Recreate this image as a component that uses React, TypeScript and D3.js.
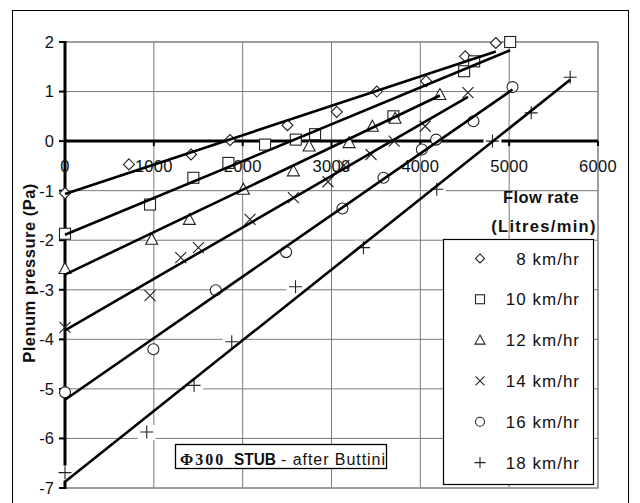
import React from "react";
import * as d3 from "d3";

const seriesNames = ["8 km/hr", "10 km/hr", "12 km/hr", "14 km/hr", "16 km/hr", "18 km/hr"];
const markerKinds = ["diamond", "square", "triangle", "x", "circle", "plus"];

const flow8 = [0, 720, 1419, 1858, 2504, 3059, 3510, 4065, 4505, 4850];
const press8 = [-1.05, -0.47, -0.27, 0.02, 0.32, 0.59, 1.0, 1.21, 1.71, 1.98];
const flow10 = [0, 957, 1445, 1839, 2252, 2598, 2815, 3697, 4493, 4606, 5011];
const press10 = [-1.87, -1.28, -0.74, -0.44, -0.07, 0.03, 0.14, 0.5, 1.41, 1.61, 2.0];
const flow12 = [0, 976, 1400, 2008, 2571, 2748, 3198, 3460, 3716, 4220];
const press12 = [-2.57, -1.98, -1.58, -0.97, -0.6, -0.1, -0.03, 0.3, 0.46, 0.94];
const flow14 = [0, 957, 1303, 1502, 2083, 2571, 2960, 3140, 3445, 3705, 4054, 4536];
const press14 = [-3.76, -3.12, -2.35, -2.15, -1.58, -1.14, -0.82, -0.49, -0.27, 0.0, 0.3, 0.98];
const flow16 = [0, 995, 1697, 2489, 3123, 3585, 4017, 4178, 4598, 5038];
const press16 = [-5.07, -4.2, -3.01, -2.24, -1.36, -0.74, -0.17, 0.03, 0.4, 1.09];
const flow18 = [0, 920, 1453, 1877, 2595, 3360, 4185, 4812, 5248, 5687];
const press18 = [-6.69, -5.87, -4.93, -4.05, -2.94, -2.15, -0.97, 0.0, 0.57, 1.29];

const flows = [flow8, flow10, flow12, flow14, flow16, flow18];
const pressures = [press8, press10, press12, press14, press16, press18];

const xTicks = [0, 1000, 2000, 3000, 4000, 5000, 6000];
const yTicks = [-7, -6, -5, -4, -3, -2, -1, 0, 1, 2];

const xTitle = ["Flow rate", "(Litres/min)"];
const yTitle = "Plenum pressure (Pa)";
const noteParts = ["\u03A6300", "STUB", "- after Buttini"];

const SANS = "'Liberation Sans', Arial, sans-serif";
const SERIF = "'Liberation Serif', 'Times New Roman', serif";

function fit(xs: number[], ys: number[]) {
  const mx = d3.mean(xs) as number;
  const my = d3.mean(ys) as number;
  let sxy = 0, sxx = 0;
  xs.forEach((v, i) => {
    sxy += (v - mx) * (ys[i] - my);
    sxx += (v - mx) * (v - mx);
  });
  const b = sxy / sxx;
  return { a: my - b * mx, b };
}

function Marker({ kind, cx, cy, s = 5.5 }: { kind: string; cx: number; cy: number; s?: number }) {
  const st = { stroke: "#222", strokeWidth: 1.1, fill: "white" } as any;
  switch (kind) {
    case "diamond":
      return <path d={`M${cx},${cy - s}L${cx + s},${cy}L${cx},${cy + s}L${cx - s},${cy}Z`} {...st} />;
    case "square":
      return <rect x={cx - s} y={cy - s} width={2 * s} height={2 * s} {...st} />;
    case "triangle":
      return <path d={`M${cx},${cy - s - 0.5}L${cx + s + 0.5},${cy + s - 0.5}L${cx - s - 0.5},${cy + s - 0.5}Z`} {...st} />;
    case "x":
      return <path d={`M${cx - s},${cy - s}L${cx + s},${cy + s}M${cx + s},${cy - s}L${cx - s},${cy + s}`} stroke="#222" strokeWidth={1.1} fill="none" />;
    case "circle":
      return <circle cx={cx} cy={cy} r={s} {...st} />;
    default:
      return <path d={`M${cx - s - 1},${cy}L${cx + s + 1},${cy}M${cx},${cy - s - 1}L${cx},${cy + s + 1}`} stroke="#222" strokeWidth={1.1} fill="none" />;
  }
}

export default function App() {
  const x = d3.scaleLinear().domain([0, 6000]).range([65, 598]);
  const y = d3.scaleLinear().domain([-7, 2]).range([488, 42]);
  const line = d3.line<[number, number]>().x((d) => x(d[0])).y((d) => y(d[1]));

  const legendX0 = 443, legendX1 = 593, legendY0 = 239, legendY1 = 484;
  const legendStep = (legendY1 - legendY0) / seriesNames.length;

  return (
    <svg width={640} height={503} style={{ position: "absolute", left: 0, top: 0, background: "white" }}>
      <rect x={12.5} y={10.5} width={616} height={500} fill="white" stroke="black" strokeWidth={1} />
      {/* gridlines */}
      {yTicks.map((t) => (
        <line key={"gy" + t} x1={x(0)} x2={x(6000)} y1={y(t)} y2={y(t)} stroke="#7a7a7a" strokeWidth={1} />
      ))}
      {xTicks.map((t) => (
        <line key={"gx" + t} x1={x(t)} x2={x(t)} y1={y(2)} y2={y(-7)} stroke="#7a7a7a" strokeWidth={1} />
      ))}
      <rect x={x(0)} y={y(2)} width={x(6000) - x(0)} height={y(-7) - y(2)} fill="none" stroke="#8a8a8a" strokeWidth={1.2} />
      {/* axes */}
      <line x1={x(0)} x2={x(0)} y1={y(2) - 1} y2={y(-7) + 1} stroke="black" strokeWidth={3} />
      <line x1={x(0)} x2={x(6000)} y1={y(0)} y2={y(0)} stroke="black" strokeWidth={3} />
      {yTicks.map((t) => (
        <line key={"ty" + t} x1={x(0) - 6} x2={x(0)} y1={y(t)} y2={y(t)} stroke="black" strokeWidth={2} />
      ))}
      {xTicks.map((t) => (
        <line key={"tx" + t} x1={x(t)} x2={x(t)} y1={y(0)} y2={y(0) + 5} stroke="black" strokeWidth={2} />
      ))}
      {yTicks.map((t) => (
        <text key={"ly" + t} x={54} y={y(t)} dy="0.36em" textAnchor="end" fontFamily={SANS} fontSize={16.5} fill="#111">
          {t}
        </text>
      ))}
      {xTicks.map((t) => (
        <text key={"lx" + t} x={x(t)} y={172} textAnchor="middle" fontFamily={SANS} fontSize={16.5} letterSpacing={0.3} fill="#111">
          {t}
        </text>
      ))}
      {/* axis titles */}
      <text x={541} y={203} textAnchor="middle" fontFamily={SANS} fontSize={16.5} fontWeight="bold" letterSpacing={0.4} fill="#111">
        {xTitle[0]}
      </text>
      <text x={544} y={232} textAnchor="middle" fontFamily={SANS} fontSize={16.5} fontWeight="bold" letterSpacing={1.3} fill="#111">
        {xTitle[1]}
      </text>
      <text
        transform={`translate(35,273) rotate(-90)`}
        textAnchor="middle"
        fontFamily={SANS}
        fontSize={16.5}
        fontWeight="bold"
        letterSpacing={0.5}
        fill="#111"
      >
        {yTitle}
      </text>
      {/* annotation box */}
      <rect x={175.5} y={444.5} width={211} height={24} fill="white" stroke="black" strokeWidth={1.3} />
      <text y={465} fontSize={16} fill="#111">
        <tspan x={180} fontFamily={SERIF} fontWeight="bold" letterSpacing={2}>{noteParts[0]}</tspan>
        <tspan x={234} fontFamily={SANS} fontWeight="bold" textLength={42} lengthAdjust="spacingAndGlyphs">{noteParts[1]}</tspan>
        <tspan x={281} fontFamily={SANS} textLength={104} lengthAdjust="spacing">{noteParts[2]}</tspan>
      </text>
      {/* legend */}
      <rect x={legendX0 + 0.5} y={legendY0 + 0.5} width={legendX1 - legendX0} height={legendY1 - legendY0} fill="white" stroke="black" strokeWidth={1.2} />
      {seriesNames.map((n, i) => {
        const cy = legendY0 + legendStep * (i + 0.5) - 1;
        return (
          <g key={"lg" + i}>
            <Marker kind={markerKinds[i]} cx={480} cy={cy} s={4.5} />
            <text x={580} y={cy} dy="0.36em" textAnchor="end" fontFamily={SANS} fontSize={17} letterSpacing={1} fill="#111">
              {n}
            </text>
          </g>
        );
      })}
      {/* white backgrounds behind plus markers */}
      {flow18.map((f, j) => (
        <rect key={"pb" + j} x={x(f) - 9} y={y(press18[j]) - 7} width={18} height={15} fill="white" />
      ))}
      {/* markers */}
      {flows.map((fs, i) =>
        fs.map((f, j) => <Marker key={`m${i}-${j}`} kind={markerKinds[i]} cx={x(f)} cy={y(pressures[i][j])} />)
      )}
      {/* trend lines */}
      {flows.map((fs, i) => {
        const { a, b } = fit(fs, pressures[i]);
        const xmax = d3.max(fs) as number;
        return (
          <path
            key={"tl" + i}
            d={line([
              [0, a],
              [xmax, a + b * xmax],
            ]) as string}
            stroke="black"
            strokeWidth={2.6}
            fill="none"
          />
        );
      })}
    </svg>
  );
}
